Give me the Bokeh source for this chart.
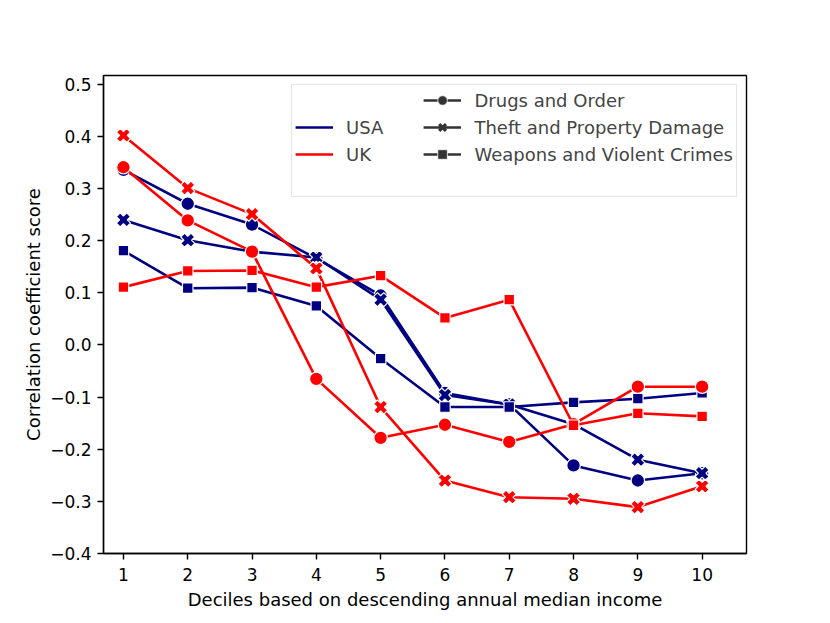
from bokeh.plotting import figure
from bokeh.models import (Legend, LegendItem, FixedTicker, CustomJSTickFormatter, Range1d)
from bokeh.embed import file_html
from bokeh.resources import INLINE
import math

deciles = [1, 2, 3, 4, 5, 6, 7, 8, 9, 10]
x_ticks = [1, 2, 3, 4, 5, 6, 7, 8, 9, 10]
y_ticks = [-0.4, -0.3, -0.2, -0.1, 0.0, 0.1, 0.2, 0.3, 0.4, 0.5]

countries = ["USA", "UK"]
crime_types = ["Drugs and Order", "Theft and Property Damage", "Weapons and Violent Crimes"]

usa_drugs = [0.336, 0.271, 0.231, 0.166, 0.095, -0.092, -0.114, -0.231, -0.260, -0.246]
usa_theft = [0.240, 0.201, 0.179, 0.168, 0.087, -0.096, -0.114, -0.152, -0.220, -0.246]
usa_weapons = [0.181, 0.109, 0.110, 0.075, -0.026, -0.119, -0.119, -0.110, -0.103, -0.092]
uk_drugs = [0.341, 0.239, 0.179, -0.065, -0.178, -0.153, -0.186, -0.152, -0.080, -0.080]
uk_theft = [0.402, 0.301, 0.251, 0.147, -0.119, -0.260, -0.292, -0.295, -0.311, -0.271]
uk_weapons = [0.111, 0.142, 0.143, 0.111, 0.133, 0.052, 0.087, -0.154, -0.131, -0.137]

colors = {"USA": "#000080", "UK": "#ff0000"}
markers = {
    "Drugs and Order": dict(marker="circle", size=13.5, angle=0),
    "Theft and Property Damage": dict(marker="plus", size=14.5, angle=math.pi / 4),
    "Weapons and Violent Crimes": dict(marker="square", size=10.5, angle=0),
}
legend_markers = {
    "Drugs and Order": dict(marker="circle", line_color="white", line_width=0.8),
    "Theft and Property Damage": dict(marker="x", line_color="#333333", line_width=3.2),
    "Weapons and Violent Crimes": dict(marker="square", line_color="white", line_width=0.8),
}
series = {
    ("USA", "Drugs and Order"): usa_drugs,
    ("USA", "Theft and Property Damage"): usa_theft,
    ("USA", "Weapons and Violent Crimes"): usa_weapons,
    ("UK", "Drugs and Order"): uk_drugs,
    ("UK", "Theft and Property Damage"): uk_theft,
    ("UK", "Weapons and Violent Crimes"): uk_weapons,
}

FONT = "DejaVu Sans"

p = figure(frame_width=643, frame_height=478,
           min_border_left=103, min_border_top=75, min_border_right=75, min_border_bottom=62,
           x_range=Range1d(0.69, 10.69), y_range=Range1d(-0.4, 0.517),
           output_backend="svg", toolbar_location=None,
           background_fill_color="white", border_fill_color="white")

p.xgrid.visible = False
p.ygrid.visible = False
p.outline_line_color = "black"
p.outline_line_width = 1.4
p.outline_line_alpha = 1.0

for ax in (p.xaxis[0], p.yaxis[0]):
    ax.axis_line_color = "black"
    ax.axis_line_width = 1.4
    ax.major_tick_line_color = "black"
    ax.major_tick_line_width = 1.4
    ax.major_tick_out = 6
    ax.major_tick_in = 0
    ax.minor_tick_line_color = None
    ax.major_label_text_font = FONT
    ax.major_label_text_font_size = "17px"
    ax.major_label_text_color = "black"
    ax.axis_label_text_font = FONT
    ax.axis_label_text_font_size = "18px"
    ax.axis_label_text_font_style = "normal"
    ax.axis_label_text_color = "black"

p.xaxis.major_label_standoff = 8
p.yaxis.major_label_standoff = 6
p.xaxis.ticker = FixedTicker(ticks=x_ticks)
p.yaxis.ticker = FixedTicker(ticks=y_ticks)
p.yaxis.formatter = CustomJSTickFormatter(
    code="var v = Math.round(tick*10)/10; return (v < 0 ? '\u2212' : '') + Math.abs(v).toFixed(1);")
p.xaxis.axis_label = "Deciles based on descending annual median income"
p.yaxis.axis_label = "Correlation coefficient score"
p.xaxis.axis_label_standoff = 5
p.yaxis.axis_label_standoff = 3

for (country, crime), vals in series.items():
    c = colors[country]
    m = markers[crime]
    p.line(deciles, vals, line_color=c, line_width=2.6)
    p.scatter(deciles, vals, marker=m["marker"], size=m["size"], angle=m["angle"],
              fill_color=c, line_color="white", line_width=1.2)

# legend proxies (a single NaN point: nothing drawn in the plot)
nan = [math.nan]
blank = p.line(nan, nan, line_alpha=0)
country_r = {c: p.line(nan, nan, line_color=colors[c], line_width=2.6) for c in countries}
style_r = {}
for crime in crime_types:
    lm = legend_markers[crime]
    lr = p.line(nan, nan, line_color="#333333", line_width=2.6)
    sr = p.scatter(nan, nan, marker=lm["marker"], fill_color="#333333",
                   line_color=lm["line_color"], line_width=lm["line_width"])
    style_r[crime] = [lr, sr]

pad = "\u00a0" * 13
items = [
    LegendItem(label=pad, renderers=[blank]),
    LegendItem(label=countries[0], renderers=[country_r[countries[0]]]),
    LegendItem(label=countries[1], renderers=[country_r[countries[1]]]),
    LegendItem(label=pad, renderers=[blank]),
    LegendItem(label=crime_types[0], renderers=style_r[crime_types[0]]),
    LegendItem(label=crime_types[1], renderers=style_r[crime_types[1]]),
    LegendItem(label=crime_types[2], renderers=style_r[crime_types[2]]),
    LegendItem(label="\u00a0", renderers=[blank]),
]
legend = Legend(items=items, ncols=2, location="top_right", margin=9, padding=3, spacing=3,
                glyph_width=38, glyph_height=24, label_standoff=13, label_height=20,
                label_text_font=FONT, label_text_font_size="18px",
                border_line_color="#cccccc", border_line_width=1.3,
                background_fill_color="white", background_fill_alpha=0.8)
p.add_layout(legend)

open("out.html", "w").write(file_html(p, INLINE))
